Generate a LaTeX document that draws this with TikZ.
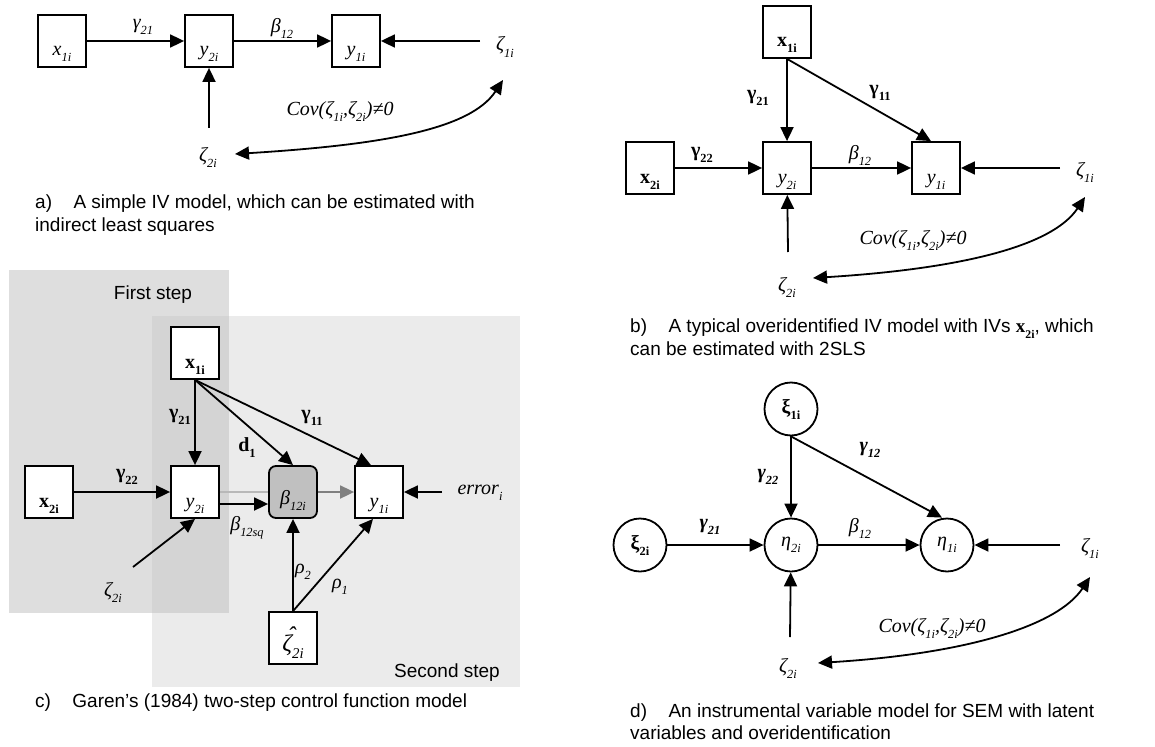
\documentclass[tikz,border=0pt]{standalone}
\usepackage{fontspec}
\setmainfont{Liberation Serif}
\newfontfamily\capfont{Liberation Sans}
\usepackage{graphicx}
\usetikzlibrary{arrows.meta}
\definecolor{stepA}{HTML}{DEDEDE}
\definecolor{stepB}{HTML}{EBEBEB}
\definecolor{stepAB}{HTML}{D4D4D4}
\definecolor{betafill}{HTML}{C0C0C0}
\definecolor{lightline}{HTML}{B8B8B8}
\definecolor{grayarrow}{HTML}{7F7F7F}
\newcommand\mysub[1]{\raisebox{-0.3em}{\scalebox{0.62}{#1}}}
\newcommand\lblsize{\fontsize{20}{24}\selectfont}
\newcommand\capsize{\capfont\fontsize{19}{22.5}\selectfont}
\newcommand\zhat{\makebox[0pt][l]{\raisebox{0.3em}{\kern0.22em ˆ}}ζ}
\begin{document}
\begin{tikzpicture}[x=1pt,y=-1pt,
  box/.style={draw, line width=1.8pt, minimum width=48pt, minimum height=52pt, inner sep=0pt, fill=white, font=\lblsize, text height=30pt, text depth=0pt},
  circ/.style={draw, circle, line width=1.8pt, minimum size=53pt, inner sep=0pt, fill=white, font=\lblsize},
  arr/.style={-{Triangle[length=14pt,width=13pt]}, line width=1.8pt},
  biarr/.style={{Triangle[length=14pt,width=13pt]}-{Triangle[length=14pt,width=13pt]}, line width=1.8pt},
  lbl/.style={font=\lblsize, inner sep=1pt},
  capt/.style={font=\capsize, align=left, anchor=west, inner sep=0pt},
  steplbl/.style={font=\capsize, inner sep=0pt}]
\useasboundingbox (0,0) rectangle (1155,746);

% ---------------- panel a ----------------
\node[box] (a-x1) at (62,41) {\textit{x\mysub{1i}}};
\node[box] (a-y2) at (209,41) {\textit{y\mysub{2i}}};
\node[box] (a-y1) at (356,41) {\textit{y\mysub{1i}}};
\node[lbl] (a-z1) at (505,47) {\textit{ζ\mysub{1i}}};
\node[lbl] (a-z2) at (208,157) {\textit{ζ\mysub{2i}}};
\node[lbl] (a-g21) at (143,27) {\textit{γ\mysub{21}}};
\node[lbl] (a-b12) at (282,28) {\textit{β\mysub{12}}};
\node[lbl] (a-cov) at (340,111) {\textit{Cov(ζ\mysub{1i},ζ\mysub{2i})≠0}};
\coordinate (a-z1s) at (480,41);
\coordinate (a-z2n) at (209,128);
\coordinate (a-c1) at (235,154);
\coordinate (a-c2) at (503,80);
\draw[arr] (a-x1) -- (a-y2);
\draw[arr] (a-y2) -- (a-y1);
\draw[arr] (a-z1s) -- (a-y1);
\draw[arr] (a-z2n) -- (a-y2);
\draw[biarr] (a-c1) .. controls +(145,-9) and +(-33,50) .. (a-c2);
\node[capt] (a-cap) at (35,215) {a)\hspace{0.85em} A simple IV model, which can be estimated with\\indirect least squares};

% ---------------- panel b ----------------
\node[box] (b-x1) at (787,32) {\textbf{x\mysub{1i}}};
\node[box] (b-x2) at (650,168) {\textbf{x\mysub{2i}}};
\node[box] (b-y2) at (787,168) {\textit{y\mysub{2i}}};
\node[box] (b-y1) at (936,168) {\textit{y\mysub{1i}}};
\node[lbl] (b-z1) at (1085,172) {\textit{ζ\mysub{1i}}};
\node[lbl] (b-z2) at (787,287) {\textit{ζ\mysub{2i}}};
\node[lbl] (b-g21) at (758,98) {\textbf{γ\mysub{21}}};
\node[lbl] (b-g11) at (880,93) {\textbf{γ\mysub{11}}};
\node[lbl] (b-g22) at (702,155) {\textbf{γ\mysub{22}}};
\node[lbl] (b-b12) at (860,155) {\textit{β\mysub{12}}};
\node[lbl] (b-cov) at (913,240) {\textit{Cov(ζ\mysub{1i},ζ\mysub{2i})≠0}};
\coordinate (b-z1s) at (1060,168);
\coordinate (b-z2n) at (788,252);
\coordinate (b-c1) at (813,278);
\coordinate (b-c2) at (1085,197);
\draw[arr] (b-x1) -- (b-y2);
\draw[arr] (b-x1.south) -- ([xshift=-5pt]b-y1.north);
\draw[arr] (b-x2) -- (b-y2);
\draw[arr] (b-y2) -- (b-y1);
\draw[arr] (b-z1s) -- (b-y1);
\draw[arr] (b-z2n) -- (b-y2);
\draw[biarr] (b-c1) .. controls +(145,-9) and +(-33,50) .. (b-c2);
\node[capt] (b-cap) at (630,337) {b)\hspace{0.85em} A typical overidentified IV model with IVs {\rmfamily\textbf{x\mysub{2i}}}, which\\can be estimated with 2SLS};

% ---------------- panel c ----------------
\fill[stepA] (9,270) rectangle (229,613);
\fill[stepB] (152,316) rectangle (520,687);
\fill[stepAB] (152,316) rectangle (229,613);
\node[steplbl] (c-first) at (153,295) {First step};
\node[steplbl] (c-second) at (447,673) {Second step};
\node[box] (c-x1) at (195,353) {\textbf{x\mysub{1i}}};
\node[box] (c-x2) at (49,492) {\textbf{x\mysub{2i}}};
\node[box] (c-y2) at (195,492) {\textit{y\mysub{2i}}};
\node[box, rounded corners=7pt, fill=betafill, text height=24pt] (c-b12) at (293,492) {\textit{β\mysub{12i}}};
\node[box] (c-y1) at (379,492) {\textit{y\mysub{1i}}};
\node[box, font=\fontsize{24}{28}\selectfont, text height=26pt] (c-zh) at (293,638) {\textit{\zhat\mysub{2i}}};
\node[lbl] (c-g21) at (180,417) {\textbf{γ\mysub{21}}};
\node[lbl] (c-g11) at (312,418) {\textbf{γ\mysub{11}}};
\node[lbl] (c-d1) at (247,448) {\textbf{d\mysub{1}}};
\node[lbl] (c-g22) at (127,477) {\textbf{γ\mysub{22}}};
\node[lbl] (c-b12sq) at (247,528) {\textit{β\mysub{12sq}}};
\node[lbl] (c-r2) at (303,572) {\textit{ρ\mysub{2}}};
\node[lbl] (c-r1) at (340,587) {\textit{ρ\mysub{1}}};
\node[lbl] (c-err) at (480,493) {\textit{error\mysub{i}}};
\node[lbl] (c-z2) at (113,592) {\textit{ζ\mysub{2i}}};
\coordinate (c-errs) at (442,492);
\coordinate (c-z2s) at (133,567);
\draw[arr] (c-x1) -- (c-y2);
\draw[arr] (c-x1.south) -- (c-b12.north);
\draw[arr] (c-x1.south) -- ([xshift=-8pt]c-y1.north);
\draw[arr] (c-x2) -- (c-y2);
\draw[line width=1.8pt, lightline] (c-y2.east) -- (c-b12.west);
\draw[arr] ([yshift=-12pt]c-y2.east) -- ([yshift=-12pt]c-b12.west);
\draw[arr, grayarrow] (c-b12) -- (c-y1);
\draw[arr] (c-errs) -- (c-y1);
\draw[arr] (c-z2s) -- (c-y2.south);
\draw[arr] (c-zh.north) -- (c-b12.south);
\draw[arr] (c-zh.north) -- ([xshift=-6pt]c-y1.south);
\node[capt] (c-cap) at (35,703) {c)\hspace{0.85em} Garen’s (1984) two-step control function model};

% ---------------- panel d ----------------
\node[circ] (d-xi1) at (791,409) {\textbf{ξ\mysub{1i}}};
\node[circ] (d-xi2) at (640,545) {\textbf{ξ\mysub{2i}}};
\node[circ] (d-e2) at (791,545) {\textit{η\mysub{2i}}};
\node[circ] (d-e1) at (947,545) {\textit{η\mysub{1i}}};
\node[lbl] (d-z1) at (1090,548) {\textit{ζ\mysub{1i}}};
\node[lbl] (d-z2) at (788,668) {\textit{ζ\mysub{2i}}};
\node[lbl] (d-g12) at (870,450) {\textbf{\textit{γ\mysub{12}}}};
\node[lbl] (d-g22) at (768,477) {\textbf{\textit{γ\mysub{22}}}};
\node[lbl] (d-g21) at (710,527) {\textbf{\textit{γ\mysub{21}}}};
\node[lbl] (d-b12) at (860,528) {\textit{β\mysub{12}}};
\node[lbl] (d-cov) at (932,628) {\textit{Cov(ζ\mysub{1i},ζ\mysub{2i})≠0}};
\coordinate (d-z1s) at (1060,545);
\coordinate (d-z2n) at (790,637);
\coordinate (d-c1) at (818,663);
\coordinate (d-c2) at (1090,577);
\draw[arr] (d-xi1) -- (d-e2);
\draw[arr] (d-xi1.south) -- ([xshift=-5pt]d-e1.north);
\draw[arr] (d-xi2) -- (d-e2);
\draw[arr] (d-e2) -- (d-e1);
\draw[arr] (d-z1s) -- (d-e1);
\draw[arr] (d-z2n) -- (d-e2);
\draw[biarr] (d-c1) .. controls +(145,-9) and +(-33,50) .. (d-c2);
\node[capt] (d-cap) at (630,721.5) {d)\hspace{0.85em} An instrumental variable model for SEM with latent\\variables and overidentification};
\end{tikzpicture}
\end{document}
